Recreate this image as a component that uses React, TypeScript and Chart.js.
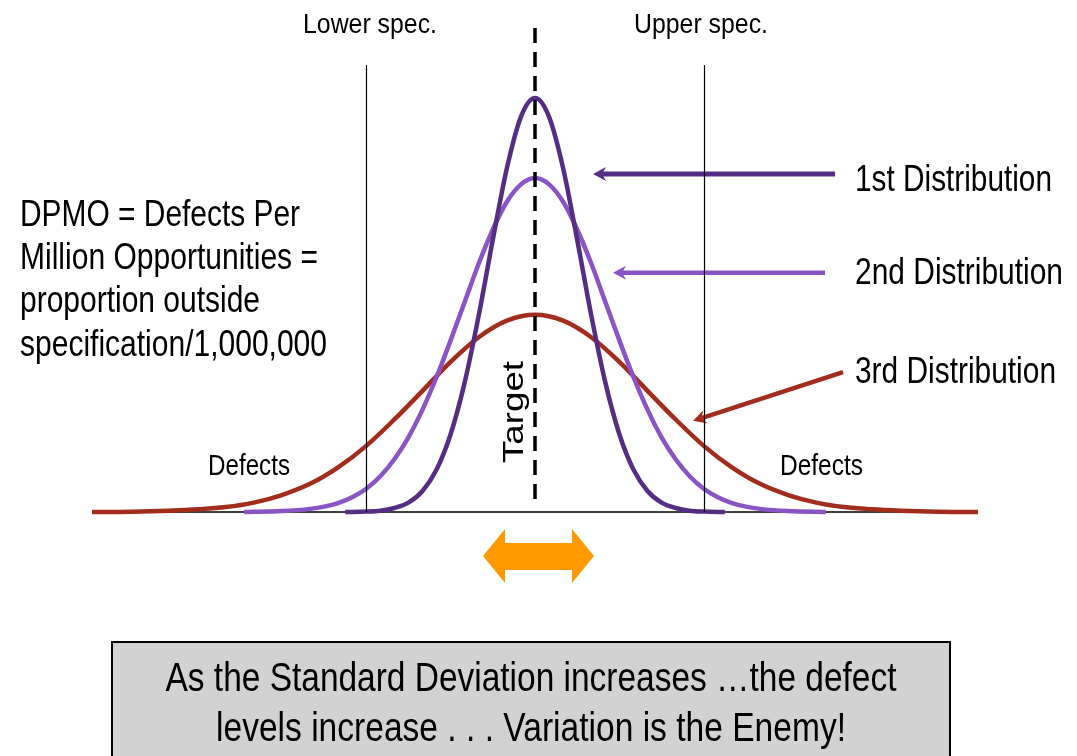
import React, { useEffect, useRef } from "react";
import { Chart, registerables } from "chart.js";

Chart.register(...registerables);

// ---- Data (x in spec units: target = 0, specs at ±3; y = relative frequency) ----
const dist1X = [-3.375, -3, -2.75, -2.5, -2.25, -2, -1.75, -1.5, -1.25, -1, -0.75, -0.5, -0.25, 0, 0.25, 0.5, 0.75, 1, 1.25, 1.5, 1.75, 2, 2.25, 2.5, 2.75, 3, 3.375];
const dist1Y = [0, 0.001, 0.003, 0.009, 0.021, 0.047, 0.095, 0.174, 0.29, 0.44, 0.609, 0.769, 0.884, 0.926, 0.884, 0.769, 0.609, 0.44, 0.29, 0.174, 0.095, 0.047, 0.021, 0.009, 0.003, 0.001, 0];

const dist2X = [-5.17, -4.5, -4, -3.75, -3.5, -3.25, -3, -2.75, -2.5, -2.25, -2, -1.75, -1.5, -1.25, -1, -0.75, -0.5, -0.25, 0, 0.25, 0.5, 0.75, 1, 1.25, 1.5, 1.75, 2, 2.25, 2.5, 2.75, 3, 3.25, 3.5, 3.75, 4, 4.5, 5.17];
const dist2Y = [0, 0.002, 0.007, 0.012, 0.02, 0.033, 0.052, 0.08, 0.118, 0.167, 0.229, 0.302, 0.384, 0.47, 0.556, 0.632, 0.694, 0.733, 0.747, 0.733, 0.694, 0.632, 0.556, 0.47, 0.384, 0.302, 0.229, 0.167, 0.118, 0.08, 0.052, 0.033, 0.02, 0.012, 0.007, 0.002, 0];

const dist3X = [-7.875, -7.5, -7, -6.5, -6, -5.5, -5, -4.5, -4, -3.5, -3, -2.5, -2, -1.5, -1, -0.5, 0, 0.5, 1, 1.5, 2, 2.5, 3, 3.5, 4, 4.5, 5, 5.5, 6, 6.5, 7, 7.5, 7.875];
const dist3Y = [0, 0, 0.001, 0.003, 0.006, 0.011, 0.021, 0.038, 0.063, 0.1, 0.148, 0.207, 0.271, 0.336, 0.391, 0.428, 0.441, 0.428, 0.391, 0.336, 0.271, 0.207, 0.148, 0.1, 0.063, 0.038, 0.021, 0.011, 0.006, 0.003, 0.001, 0, 0];

const seriesNames = ["1st Distribution", "2nd Distribution", "3rd Distribution"];
const seriesColors = ["#552D83", "#8A54C4", "#A32D1C"];

const specValues = [-3, 3];
const specNames = ["Lower spec.", "Upper spec."];
const targetValue = 0;

// pointer arrows: [x, y] in data units
const arrowTails = [
  [5.334, 0.756],
  [5.156, 0.535],
  [5.476, 0.313],
];
const arrowTips = [
  [1.032, 0.756],
  [1.387, 0.535],
  [2.809, 0.204],
];

const dpmoLines = [
  "DPMO = Defects Per",
  "Million Opportunities =",
  "proportion outside",
  "specification/1,000,000",
];
const captionLines = [
  "As the Standard Deviation increases \u2026the defect",
  "levels increase . . . Variation is the Enemy!",
];

const FONT = '"Liberation Sans", Arial, Helvetica, sans-serif';

function fitText(ctx: CanvasRenderingContext2D, text: string, x: number, y: number, size: number, width: number, align: "left" | "center" = "left") {
  ctx.save();
  ctx.font = `${size}px ${FONT}`;
  const m = ctx.measureText(text).width;
  const sx = width / m;
  ctx.translate(align === "center" ? x - width / 2 : x, y);
  ctx.scale(sx, 1);
  ctx.textAlign = "left";
  ctx.textBaseline = "alphabetic";
  ctx.fillStyle = "#000";
  ctx.fillText(text, 0, 0);
  ctx.restore();
}

function drawArrow(ctx: CanvasRenderingContext2D, x1: number, y1: number, x2: number, y2: number, color: string, lw: number) {
  const ang = Math.atan2(y2 - y1, x2 - x1);
  const headLen = 13;
  const headHalf = 7;
  const notch = 9;
  const ux = Math.cos(ang), uy = Math.sin(ang);
  const nx = -uy, ny = ux;
  ctx.save();
  ctx.strokeStyle = color;
  ctx.fillStyle = color;
  ctx.lineWidth = lw;
  ctx.lineCap = "butt";
  ctx.beginPath();
  ctx.moveTo(x1, y1);
  ctx.lineTo(x2 - ux * notch, y2 - uy * notch);
  ctx.stroke();
  ctx.beginPath();
  ctx.moveTo(x2, y2);
  ctx.lineTo(x2 - ux * headLen + nx * headHalf, y2 - uy * headLen + ny * headHalf);
  ctx.lineTo(x2 - ux * notch, y2 - uy * notch);
  ctx.lineTo(x2 - ux * headLen - nx * headHalf, y2 - uy * headLen - ny * headHalf);
  ctx.closePath();
  ctx.fill();
  ctx.restore();
}

const annotationPlugin = {
  id: "sixSigmaAnnotations",
  beforeDatasetsDraw(chart: any) {
    const { ctx, chartArea, scales } = chart;
    const y0 = scales.y.getPixelForValue(0);
    ctx.save();
    ctx.strokeStyle = "#000";
    ctx.lineWidth = 1.5;
    ctx.beginPath();
    ctx.moveTo(chartArea.left, y0);
    ctx.lineTo(chartArea.right, y0);
    ctx.stroke();
    ctx.restore();
  },
  afterDatasetsDraw(chart: any) {
    const { ctx, scales } = chart;
    const xs = scales.x;
    const ys = scales.y;
    const y0 = ys.getPixelForValue(0);

    // pointer arrows
    arrowTails.forEach((t, i) => {
      drawArrow(
        ctx,
        xs.getPixelForValue(t[0]),
        ys.getPixelForValue(t[1]),
        xs.getPixelForValue(arrowTips[i][0]),
        ys.getPixelForValue(arrowTips[i][1]),
        seriesColors[i],
        i === 0 ? 5 : 4.5
      );
    });

    // spec lines
    ctx.save();
    ctx.strokeStyle = "#000";
    ctx.lineWidth = 1.2;
    specValues.forEach((v) => {
      const px = Math.round(xs.getPixelForValue(v)) + 0.5;
      ctx.beginPath();
      ctx.moveTo(px, ys.getPixelForValue(1));
      ctx.lineTo(px, y0);
      ctx.stroke();
    });
    ctx.restore();

    // target dashed line
    const tx = xs.getPixelForValue(targetValue);
    ctx.save();
    ctx.strokeStyle = "#000";
    ctx.lineWidth = 3.5;
    ctx.setLineDash([15, 9]);
    ctx.beginPath();
    ctx.moveTo(tx, 28);
    ctx.lineTo(tx, y0 - 10);
    ctx.stroke();
    ctx.restore();

    // labels
    fitText(ctx, specNames[0], 303, 33, 28, 134);
    fitText(ctx, specNames[1], 634, 33, 28, 134);
    const dpmoBase = [226, 269, 312, 356];
    const dpmoW = [280, 298, 240, 307];
    dpmoLines.forEach((l, i) => fitText(ctx, l, 20, dpmoBase[i], 36, dpmoW[i]));
    const nameBase = [191, 284, 383];
    const nameW = [197, 208, 201];
    seriesNames.forEach((n, i) => fitText(ctx, n, 855, nameBase[i], 37, nameW[i]));
    fitText(ctx, "Defects", 208, 475, 29, 82);
    fitText(ctx, "Defects", 780, 475, 29, 83);

    // Target (rotated)
    ctx.save();
    ctx.translate(tx - 12, 412);
    ctx.rotate(-Math.PI / 2);
    fitText(ctx, "Target", 0, 0, 29, 102, "center");
    ctx.restore();

    // orange double arrow
    const cx = tx + 3.5;
    const cy = 556;
    ctx.save();
    ctx.fillStyle = "#FF9900";
    ctx.beginPath();
    ctx.moveTo(cx - 55.5, cy);
    ctx.lineTo(cx - 33.5, cy - 27);
    ctx.lineTo(cx - 33.5, cy - 13);
    ctx.lineTo(cx + 33.5, cy - 13);
    ctx.lineTo(cx + 33.5, cy - 27);
    ctx.lineTo(cx + 55.5, cy);
    ctx.lineTo(cx + 33.5, cy + 27);
    ctx.lineTo(cx + 33.5, cy + 14);
    ctx.lineTo(cx - 33.5, cy + 14);
    ctx.lineTo(cx - 33.5, cy + 27);
    ctx.closePath();
    ctx.fill();
    ctx.restore();

    // caption box
    ctx.save();
    ctx.fillStyle = "#D2D2D2";
    ctx.fillRect(112, 642, 838, 130);
    ctx.strokeStyle = "#000";
    ctx.lineWidth = 2;
    ctx.strokeRect(112, 642, 838, 130);
    ctx.restore();
    fitText(ctx, captionLines[0], 531, 691, 41, 731, "center");
    fitText(ctx, captionLines[1], 531, 741, 41, 630, "center");
  },
};

export default function App() {
  const canvasRef = useRef<HTMLCanvasElement | null>(null);

  useEffect(() => {
    const canvas = canvasRef.current;
    if (!canvas) return;
    const xsArr = [dist1X, dist2X, dist3X];
    const ysArr = [dist1Y, dist2Y, dist3Y];
    const chart = new Chart(canvas, {
      type: "line",
      data: {
        datasets: seriesNames.map((name, i) => ({
          label: name,
          data: xsArr[i].map((x, j) => ({ x, y: ysArr[i][j] })),
          borderColor: seriesColors[i],
          backgroundColor: seriesColors[i],
          borderWidth: 4.5,
          pointRadius: 0,
          pointHoverRadius: 0,
          fill: false,
          cubicInterpolationMode: "monotone" as const,
          clip: false as any,
          order: i + 1,
          borderJoinStyle: "round" as const,
        })),
      },
      options: {
        responsive: false,
        devicePixelRatio: 1,
        animation: false,
        events: [],
        layout: { padding: { left: 92, right: 99, top: 65, bottom: 244 } },
        plugins: {
          legend: { display: false },
          tooltip: { enabled: false },
          title: { display: false },
        },
        scales: {
          x: { type: "linear", min: -7.875, max: 7.875, display: false },
          y: { type: "linear", min: 0, max: 1, display: false },
        },
      },
      plugins: [annotationPlugin],
    });
    return () => chart.destroy();
  }, []);

  return (
    <div style={{ position: "fixed", left: 0, top: 0, width: 1077, height: 756, background: "#fff", overflow: "hidden" }}>
      <canvas ref={canvasRef} width={1077} height={756} style={{ display: "block" }} />
    </div>
  );
}
